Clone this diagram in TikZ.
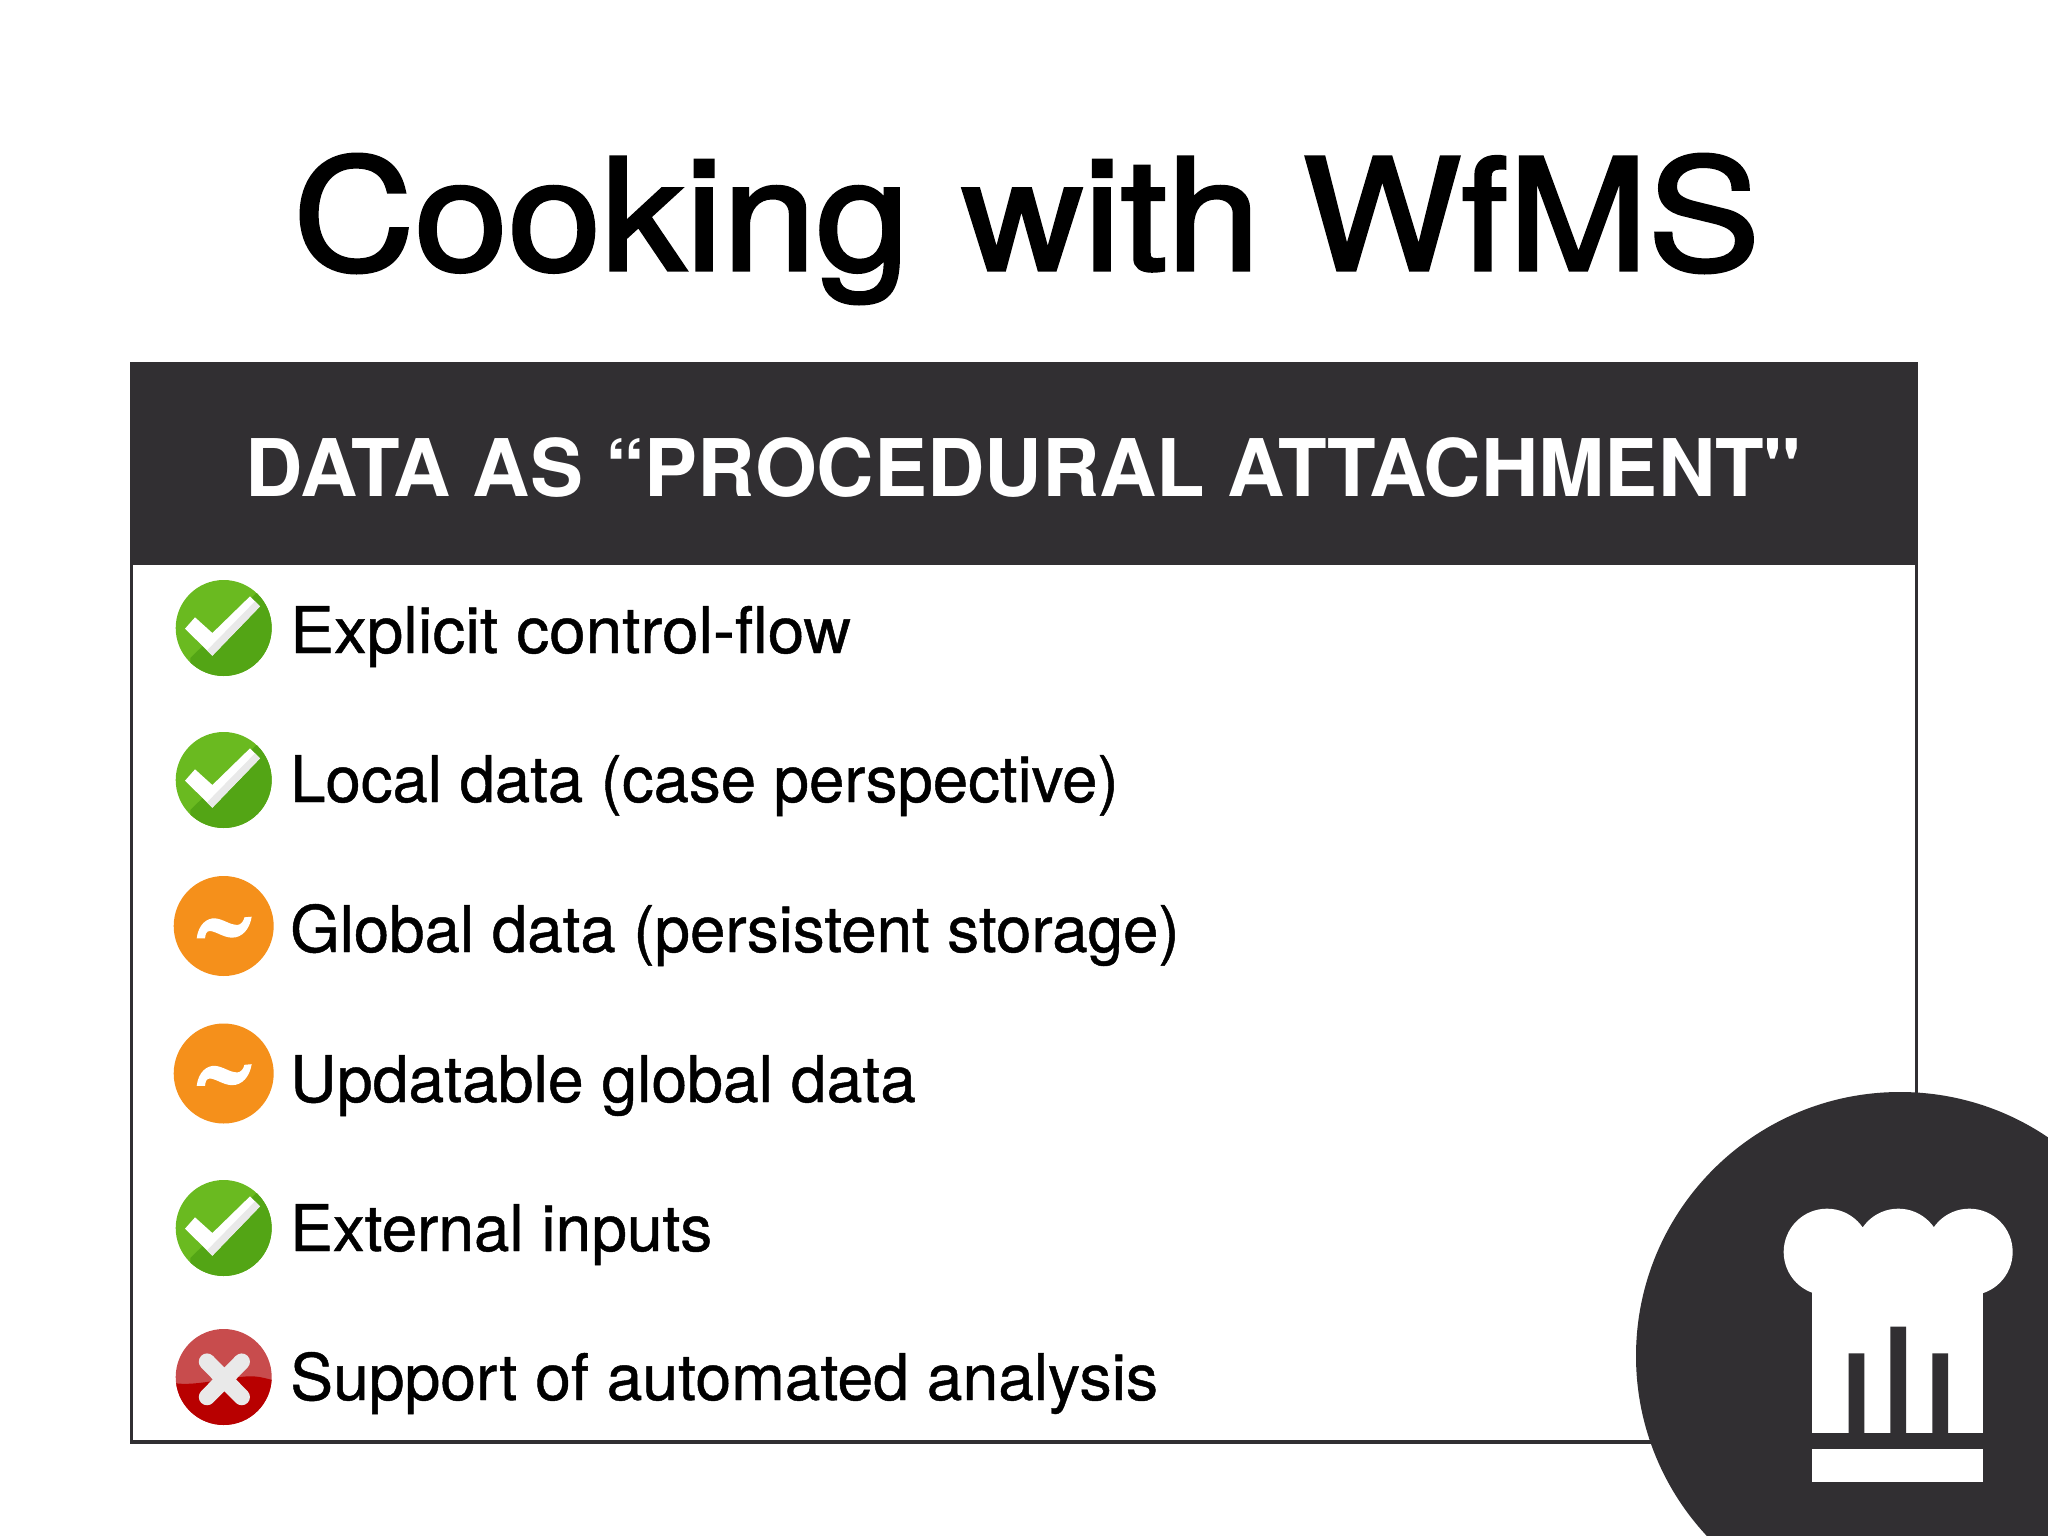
\documentclass[tikz,border=0pt]{standalone}
\usepackage{graphicx}
\usepackage{fontspec}
\setmainfont{TeX Gyre Heros}
\newfontfamily\helvplain{TeX Gyre Heros}
\newfontfamily\itemfont[FakeBold=0.7]{TeX Gyre Heros}
\newfontfamily\titlefont[FakeBold=2.2,FakeStretch=1.084]{TeX Gyre Heros}
\definecolor{panel}{HTML}{312F32}
\definecolor{gl}{HTML}{6ABA20}
\definecolor{gd}{HTML}{53A515}
\definecolor{org}{HTML}{F5901B}
\definecolor{rl}{HTML}{C84C4D}
\definecolor{rd}{HTML}{B80000}
\definecolor{markgrey}{HTML}{E9E9E9}
\tikzset{
  itemtext/.style={anchor=base west,inner sep=0pt,text=black,font=\fontsize{64.3}{70}\itemfont},
}
\newcommand{\okicon}[2]{%
  \begin{scope}[shift={(#1,#2)},scale=1/3]
    \fill[gl] (0,0) circle (144);
    \begin{scope}
      \clip (0,0) circle (144);
      \fill[gd] (-100,90) -- (98,-105) -- (200,-105) -- (200,200) -- (-100,200) -- cycle;
    \end{scope}
    \fill[white] (-116,2) -- (-86,-32) -- (-34,15) -- (79,-95) -- (109,-65) -- (-34,83) -- cycle;
    \fill[markgrey] (-50,67) -- (94,-80) -- (109,-65) -- (-34,83) -- cycle;
  \end{scope}}
\newcommand{\midicon}[2]{%
  \begin{scope}[shift={(#1,#2)},scale=1/3]
    \fill[org] (0,0) circle (150);
    \fill[white] (-81,37) .. controls (-76,-5) and (-50,-25) .. (-25,-23)
      .. controls (0,-20) and (20,-3) .. (40,-3)
      .. controls (52,-3) and (60,-15) .. (62,-26)
      -- (84,-28) .. controls (78,10) and (55,35) .. (25,35)
      .. controls (0,35) and (-25,15) .. (-42,15)
      .. controls (-52,15) and (-55,25) .. (-56,37) -- cycle;
  \end{scope}}
\newcommand{\noicon}[2]{%
  \begin{scope}[shift={(#1,#2)},scale=1/3]
    \fill[rl] (0,0) circle (144);
    \begin{scope}
      \clip (0,0) circle (144);
      \fill[rd] (-150,18) .. controls (-80,30) and (30,-5) .. (90,-2)
        .. controls (115,0) and (130,5) .. (150,10) -- (150,150) -- (-150,150) -- cycle;
    \end{scope}
    \draw[markgrey,line width=16.5pt,line cap=round] (-50,-46) -- (54,60) (54,-46) -- (-50,60);
  \end{scope}}
\begin{document}
\begin{tikzpicture}[x=1pt,y=-1pt]
  \useasboundingbox (0,0) rectangle (2048,1536);
  \clip (0,0) rectangle (2048,1536);
  \fill[white] (0,0) rectangle (2048,1536);
  \node[anchor=base west,inner sep=0pt,font=\fontsize{155}{170}\titlefont] (title) at (293,270) {Cooking\hspace{6pt} with\hspace{-4pt} WfMS};
  \draw[panel,line width=3.4pt] (131.5,363.7) rectangle (1916.5,1442);
  \fill[panel] (130,362) rectangle (1918,565);
  \node[anchor=base west,inner sep=0pt,text=white,font=\fontsize{79.5}{86}\helvplain\bfseries] (head) at (245.5,496) {DATA AS “PROCEDURAL ATTACHMENT"};
  \okicon{223.7}{628}
  \okicon{223.7}{780}
  \midicon{223.7}{926}
  \midicon{223.7}{1073.5}
  \okicon{223.7}{1228}
  \noicon{223.7}{1377}
  \node[itemtext] (t1) at (290,653) {\scalebox{1.021}[1]{Explicit control-flow}};
  \node[itemtext] (t2) at (290,802) {\scalebox{0.9875}[1]{Local data (case perspective)}};
  \node[itemtext] (t3) at (290,952) {\scalebox{0.99}[1]{Global data (persistent storage)}};
  \node[itemtext] (t4) at (290,1102) {Updatable global data};
  \node[itemtext] (t5) at (290,1251) {\scalebox{0.994}[1]{External inputs}};
  \node[itemtext] (t6) at (290,1400) {Support of automated analysis};
  \fill[panel] (1900,1356) circle (264);
  \begin{scope}[shift={(1600,1070)},scale=1/3]
    \fill[white] (681,546) circle (130) (895,546) circle (130) (1108,546) circle (130);
    \fill[white] (635,560) rectangle (1150,1090);
    \fill[panel] (746,850) rectangle (793,1092) (871,770) rectangle (918,1092) (997,850) rectangle (1044,1092);
    \fill[white] (635,1137) rectangle (1150,1235);
  \end{scope}
\end{tikzpicture}
\end{document}
